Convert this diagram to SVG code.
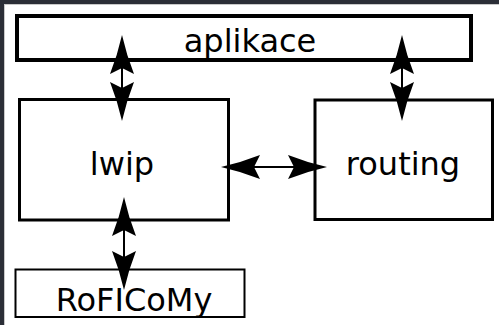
<svg xmlns="http://www.w3.org/2000/svg" width="499" height="325" viewBox="0 0 499 325">
  <style>
    .box { fill: #ffffff; stroke: #000000; }
    .label { font-family: "DejaVu Sans", "Liberation Sans", sans-serif; font-size: 32px; fill: #000000; text-anchor: middle; }
    .link { stroke: #000000; stroke-width: 2; fill: none; marker-start: url(#head); marker-end: url(#head); }
  </style>
  <defs>
    <!-- double-ended arrowhead, tip sits 8px past the line end -->
    <marker id="head" markerUnits="userSpaceOnUse" viewBox="-34 -13 44 26" refX="0" refY="0" markerWidth="44" markerHeight="26" orient="auto-start-reverse" overflow="visible">
      <path d="M8,0 Q-12,-4.5 -31,-12 L-25,0 L-31,12 Q-12,4.5 8,0 Z" fill="#000000"/>
    </marker>
  </defs>

  <!-- window frame -->
  <rect x="0" y="0" width="499" height="325" fill="#2b2e37"/>
  <rect x="4.5" y="4.5" width="496" height="322" fill="#ffffff" stroke="#c9c9c9" stroke-width="1"/>

  <g id="aplikace">
    <rect class="box" x="17" y="16" width="454" height="44" stroke-width="4"/>
    <text class="label" x="250" y="52">aplikace</text>
  </g>

  <g id="lwip">
    <rect class="box" x="19.5" y="99.5" width="209" height="120.5" stroke-width="3"/>
    <text class="label" x="122" y="175">lwip</text>
  </g>

  <g id="routing">
    <rect class="box" x="315" y="100" width="177.5" height="119.5" stroke-width="3"/>
    <text class="label" x="403" y="175">routing</text>
  </g>

  <g id="roficomy">
    <rect class="box" x="15.5" y="269.5" width="229" height="47.5" stroke-width="2"/>
    <text class="label" x="134" y="311">RoFICoMy</text>
  </g>

  <g id="connectors">
    <line class="link" x1="122" y1="43" x2="122" y2="113"/>
    <line class="link" x1="402" y1="43" x2="402" y2="113"/>
    <line class="link" x1="124" y1="205" x2="124" y2="282"/>
    <line class="link" x1="229" y1="167" x2="319" y2="167"/>
  </g>
</svg>
